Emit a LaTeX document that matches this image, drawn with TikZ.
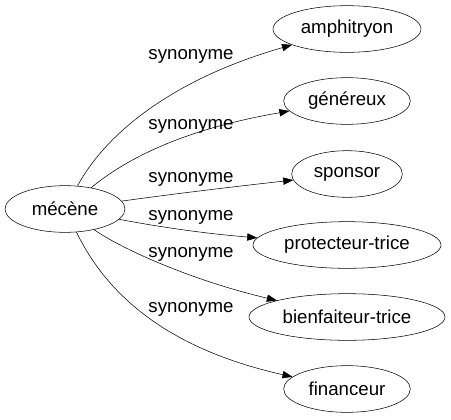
\documentclass[tikz,border=0pt]{standalone}
\usepackage{fontspec}
\setmainfont{Liberation Sans}
\usetikzlibrary{shapes.geometric,arrows.meta}

\tikzset{
  word/.style={draw, ellipse, inner sep=0pt, minimum height=35pt},
  syn/.style={-{Triangle[length=7.5pt,width=5.5pt]}},
  every node/.style={font=\fontsize{14pt}{16pt}\selectfont}
}

\begin{document}
\begin{tikzpicture}[x=0.75pt, y=-0.75pt]
  \useasboundingbox (0,0) rectangle (451,419);
  % vertices
  \node[word, minimum width=90pt] (mec) at (65,209) {mécène};
  \node[word, minimum width=111pt] (amph) at (347,29) {amphitryon};
  \node[word, minimum width=95pt] (gen) at (347,101) {généreux};
  \node[word, minimum width=83pt] (spon) at (347,174) {sponsor};
  \node[word, minimum width=141pt] (prot) at (347,245) {protecteur-trice};
  \node[word, minimum width=147pt] (bien) at (347,317) {bienfaiteur-trice};
  \node[word, minimum width=95pt] (fin) at (347,389) {financeur};

  % draw diagram
  \draw[syn] (mec) .. controls (105,135) and (170,80) .. (amph);
  \draw[syn] (mec) .. controls (125,160) and (180,130) .. (gen);
  \draw[syn] (mec) .. controls (180,193) and (240,186) .. (spon);
  \draw[syn] (mec) .. controls (165,228) and (210,234) .. (prot);
  \draw[syn] (mec) .. controls (120,248) and (190,280) .. (bien);
  \draw[syn] (mec) .. controls (100,280) and (150,345) .. (fin);

  % labels
  \node (l1) at (191,56) {synonyme};
  \node (l2) at (191,126) {synonyme};
  \node (l3) at (191,179) {synonyme};
  \node (l4) at (191,217) {synonyme};
  \node (l5) at (191,254) {synonyme};
  \node (l6) at (191,309) {synonyme};
\end{tikzpicture}
\end{document}
